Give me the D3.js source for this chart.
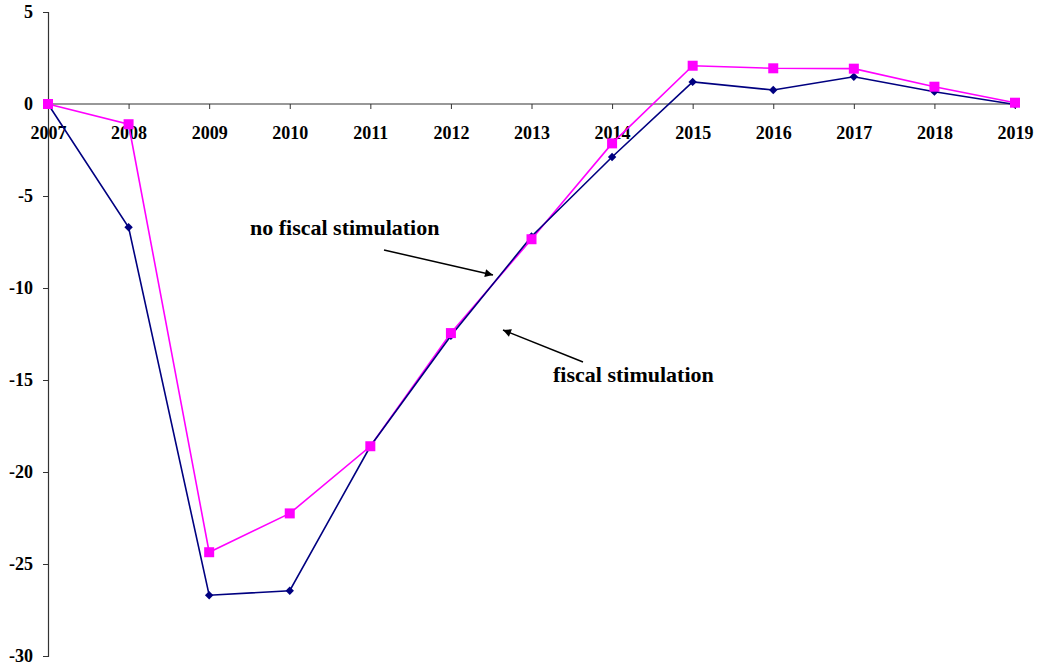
<!DOCTYPE html>
<html>
<head>
<meta charset="utf-8">
<script src="https://cdn.jsdelivr.net/npm/d3@7"></script>
<style>
  html, body { margin: 0; padding: 0; background: #fff; }
</style>
</head>
<body>
<svg id="chart" width="1039" height="668"></svg>
<script>
// Output gap paths, 2007–2019
const years = ["2007","2008","2009","2010","2011","2012","2013","2014","2015","2016","2017","2018","2019"];
const noStimulus = [0, -6.7, -26.7, -26.45, -18.6, -12.6, -7.2, -2.88, 1.2, 0.76, 1.48, 0.67, -0.03];
const withStimulus = [0, -1.1, -24.36, -22.25, -18.6, -12.45, -7.35, -2.14, 2.08, 1.94, 1.92, 0.94, 0.07];
const yTicks = [5, 0, -5, -10, -15, -20, -25, -30];

const FONT = '"Liberation Serif"';

const svg = d3.select("#chart");
const margin = { left: 48, right: 24, top: 12, bottom: 12 };
const W = 1039, H = 668;

const x = d3.scalePoint().domain(years).range([margin.left, W - margin.right]);
const y = d3.scaleLinear().domain([-30, 5]).range([H - margin.bottom, margin.top]);

// Arrow marker
svg.append("defs").append("marker")
  .attr("id", "arrow").attr("viewBox", "0 0 10 10")
  .attr("refX", 10).attr("refY", 5)
  .attr("markerWidth", 10).attr("markerHeight", 8)
  .attr("markerUnits", "userSpaceOnUse")
  .attr("orient", "auto")
  .append("path").attr("d", "M0,0 L10,5 L0,10 Z").attr("fill", "#000");

function styleText(sel, size) {
  sel.style("font-family", FONT).style("font-size", size + "px").style("font-weight", "bold").attr("fill", "#000");
}

// Y axis
const yAxis = svg.append("g").attr("transform", `translate(${margin.left},0)`)
  .call(d3.axisLeft(y).tickValues(yTicks).tickSize(5).tickPadding(10).tickFormat(d => String(d)));
yAxis.select(".domain").attr("stroke", "#333").attr("stroke-width", 1.2);
yAxis.selectAll(".tick line").attr("stroke", "#333");
styleText(yAxis.selectAll(".tick text"), 18);

// X axis along zero line
const xAxis = svg.append("g").attr("transform", `translate(0,${y(0)})`)
  .call(d3.axisBottom(x).tickSize(5).tickSizeOuter(0).tickPadding(17));
xAxis.select(".domain").attr("stroke", "#333").attr("stroke-width", 1.2)
  .attr("d", `M${margin.left},0H${x("2019")}`);
xAxis.selectAll(".tick line").attr("stroke", "#333");
styleText(xAxis.selectAll(".tick text"), 18);

const line = d3.line().x((d, i) => x(years[i])).y(d => y(d));

// Fiscal stimulation series (magenta squares)
svg.append("path").datum(withStimulus)
  .attr("d", line).attr("fill", "none").attr("stroke", "#ff00ff").attr("stroke-width", 1.6);

// No fiscal stimulation series (navy diamonds)
svg.append("path").datum(noStimulus)
  .attr("d", line).attr("fill", "none").attr("stroke", "#000080").attr("stroke-width", 1.6);

svg.append("g").selectAll("path").data(noStimulus).join("path")
  .attr("d", d3.symbol(d3.symbolDiamond2, 45))
  .attr("transform", (d, i) => `translate(${x(years[i])},${y(d)})`)
  .attr("fill", "#000080");

svg.append("g").selectAll("rect").data(withStimulus).join("rect")
  .attr("x", (d, i) => x(years[i]) - 5).attr("y", d => y(d) - 5)
  .attr("width", 10).attr("height", 10)
  .attr("fill", "#ff00ff");

// Annotations
styleText(svg.append("text").attr("x", 250).attr("y", 235).text("no fiscal stimulation"), 22);
svg.append("line").attr("x1", 384).attr("y1", 250).attr("x2", 493).attr("y2", 275)
  .attr("stroke", "#000").attr("stroke-width", 1.5).attr("marker-end", "url(#arrow)");

styleText(svg.append("text").attr("x", 553).attr("y", 382).text("fiscal stimulation"), 22);
svg.append("line").attr("x1", 583).attr("y1", 362).attr("x2", 503).attr("y2", 330)
  .attr("stroke", "#000").attr("stroke-width", 1.5).attr("marker-end", "url(#arrow)");
</script>
</body>
</html>
